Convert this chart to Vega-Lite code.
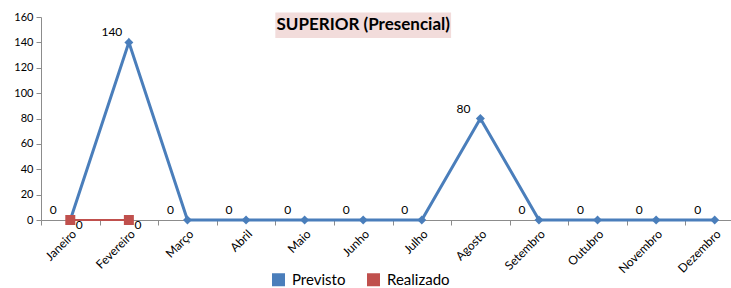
{
  "$schema": "https://vega.github.io/schema/vega-lite/v6.json",
  "autosize": "none",
  "width": 690,
  "height": 203,
  "padding": {"left": 41, "top": 17, "right": 0, "bottom": 68},
  "background": "#ffffff",
  "config": {
    "view": {"stroke": null},
    "font": "Lato",
    "axis": {"zindex": 0}
  },
  "data": {
    "values": [
      {"mes": "Janeiro", "serie": "Previsto", "valor": 0},
      {"mes": "Fevereiro", "serie": "Previsto", "valor": 140},
      {"mes": "Março", "serie": "Previsto", "valor": 0},
      {"mes": "Abril", "serie": "Previsto", "valor": 0},
      {"mes": "Maio", "serie": "Previsto", "valor": 0},
      {"mes": "Junho", "serie": "Previsto", "valor": 0},
      {"mes": "Julho", "serie": "Previsto", "valor": 0},
      {"mes": "Agosto", "serie": "Previsto", "valor": 80},
      {"mes": "Setembro", "serie": "Previsto", "valor": 0},
      {"mes": "Outubro", "serie": "Previsto", "valor": 0},
      {"mes": "Novembro", "serie": "Previsto", "valor": 0},
      {"mes": "Dezembro", "serie": "Previsto", "valor": 0},
      {"mes": "Janeiro", "serie": "Realizado", "valor": 0},
      {"mes": "Fevereiro", "serie": "Realizado", "valor": 0}
    ]
  },
  "encoding": {
    "x": {
      "field": "mes", "type": "nominal",
      "scale": {
        "type": "band",
        "domain": ["Janeiro","Fevereiro","Março","Abril","Maio","Junho","Julho","Agosto","Setembro","Outubro","Novembro","Dezembro"],
        "range": [0, 703],
        "paddingInner": 0, "paddingOuter": 0
      },
      "axis": {
        "title": null, "labelAngle": -45, "labelFontSize": 12, "labelColor": "#000000",
        "domainColor": "#8c8c8c", "tickColor": "#8c8c8c", "tickBand": "extent", "tickSize": 5,
        "labelPadding": 3, "grid": false
      }
    },
    "y": {
      "field": "valor", "type": "quantitative",
      "scale": {"domain": [0, 160], "nice": false},
      "axis": {
        "title": null, "values": [0,20,40,60,80,100,120,140,160], "labelFontSize": 11, "labelColor": "#000000",
        "domainColor": "#8c8c8c", "tickColor": "#8c8c8c", "tickSize": 5, "labelPadding": 3, "grid": false
      }
    },
    "color": {
      "field": "serie", "type": "nominal",
      "scale": {"domain": ["Previsto","Realizado"], "range": ["#4a7ebb","#c0504d"]},
      "legend": {
        "orient": "none", "legendX": 230, "legendY": 255, "direction": "horizontal",
        "title": null, "symbolType": "square", "symbolSize": 169, "labelFontSize": 15,
        "labelColor": "#000000", "columnPadding": 20, "labelOffset": 6, "symbolStrokeWidth": 0,
        "symbolOpacity": 1
      }
    }
  },
  "layer": [
    {
      "data": {"values": [{"mes": "Maio", "mes2": "Agosto", "valor": 143.5, "valor2": 163.5}]},
      "mark": {"type": "rect", "color": "#f2dcdb"},
      "encoding": {
        "x": {"field": "mes", "type": "nominal", "bandPosition": 0},
        "x2": {"field": "mes2", "bandPosition": 0},
        "y2": {"field": "valor2"},
        "color": null
      }
    },
    {
      "data": {"values": [{"mes": "Junho", "valor": 153.5, "titulo": "SUPERIOR (Presencial)"}]},
      "mark": {"type": "text", "fontSize": 17, "fontWeight": "bold", "color": "#000000", "baseline": "middle", "align": "center"},
      "encoding": {"text": {"field": "titulo", "type": "nominal"}, "color": null}
    },
    {
      "transform": [{"filter": "datum.serie === 'Realizado'"}],
      "mark": {"type": "line", "strokeWidth": 2}
    },
    {
      "transform": [{"filter": "datum.serie === 'Previsto'"}],
      "mark": {"type": "line", "strokeWidth": 3}
    },
    {
      "transform": [{"filter": "datum.serie === 'Previsto'"}],
      "mark": {"type": "point", "filled": true, "opacity": 1, "shape": "diamond", "size": 80}
    },
    {
      "transform": [{"filter": "datum.serie === 'Realizado'"}],
      "mark": {"type": "point", "filled": true, "opacity": 1, "shape": "square", "size": 100}
    },
    {
      "transform": [{"filter": "datum.serie === 'Previsto'"}],
      "mark": {"type": "text", "dx": -17, "dy": -10, "fontSize": 12, "color": "#000000"},
      "encoding": {"text": {"field": "valor", "type": "quantitative"}, "color": null}
    },
    {
      "transform": [{"filter": "datum.serie === 'Realizado'"}],
      "mark": {"type": "text", "dx": 9, "dy": 5, "fontSize": 12, "color": "#000000"},
      "encoding": {"text": {"field": "valor", "type": "quantitative"}, "color": null}
    }
  ]
}
